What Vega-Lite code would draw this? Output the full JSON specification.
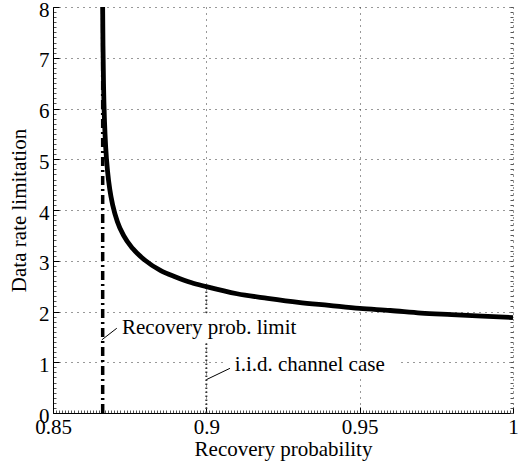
{
  "$schema": "https://vega.github.io/schema/vega-lite/v6.json",
  "width": 460,
  "height": 406,
  "autosize": {"type": "none"},
  "padding": {"left": 53, "top": 7, "right": 16, "bottom": 52},
  "config": {
    "view": {"stroke": null},
    "font": "Liberation Serif",
    "axis": {
      "labelFont": "Liberation Serif",
      "titleFont": "Liberation Serif",
      "labelColor": "#000",
      "titleColor": "#000",
      "labelFontSize": 21,
      "titleFontSize": 21,
      "titleFontWeight": "normal",
      "labelFlush": false,
      "labelOverlap": false
    }
  },
  "resolve": {"axis": {"x": "independent", "y": "independent"}},
  "layer": [
    {
      "data": {"values": [{"x": 0.9, "y": 0, "y2": 2.49}]},
      "mark": {"type": "rule", "strokeDash": [1.5, 2.5], "strokeWidth": 2, "color": "#333"},
      "encoding": {
        "x": {"field": "x", "type": "quantitative",
          "scale": {"domain": [0.85, 1], "nice": false, "zero": false},
          "axis": {"orient": "bottom", "tickCount": 150, "labels": false, "domain": false, "grid": false, "tickSize": -3, "tickColor": "#555", "title": null}},
        "y": {"field": "y", "type": "quantitative",
          "scale": {"domain": [0, 8], "nice": false},
          "axis": {"orient": "left", "tickCount": 80, "labels": false, "domain": false, "grid": false, "tickSize": -3, "tickColor": "#555", "title": null}},
        "y2": {"field": "y2"}
      }
    },
    {
      "data": {"values": [
        {"x": 0.869, "x2": 0.935, "y": 1.42, "y2": 1.96},
        {"x": 0.9055, "x2": 0.963, "y": 0.7, "y2": 1.2}
      ]},
      "mark": {"type": "rect", "fill": "white"},
      "encoding": {
        "x": {"field": "x", "type": "quantitative", "axis": null},
        "x2": {"field": "x2"},
        "y": {"field": "y", "type": "quantitative",
          "axis": {"orient": "right", "tickCount": 80, "labels": false, "domain": false, "grid": false, "tickSize": -3, "tickColor": "#555", "title": null}},
        "y2": {"field": "y2"}
      }
    },
    {
      "data": {"values": [{"x": 0.8662, "y": 0, "y2": 8}]},
      "mark": {"type": "rule", "strokeDash": [9, 4, 2, 4], "strokeWidth": 3.5, "color": "#000"},
      "encoding": {
        "x": {"field": "x", "type": "quantitative", "axis": null},
        "y": {"field": "y", "type": "quantitative", "axis": null},
        "y2": {"field": "y2"}
      }
    },
    {
      "data": {"values": [
        {"x": 0.86619, "y": 8.0},
        {"x": 0.8663, "y": 7.23},
        {"x": 0.8665, "y": 6.41},
        {"x": 0.8668, "y": 5.74},
        {"x": 0.8672, "y": 5.22},
        {"x": 0.8678, "y": 4.76},
        {"x": 0.8685, "y": 4.41},
        {"x": 0.8695, "y": 4.09},
        {"x": 0.871, "y": 3.77},
        {"x": 0.873, "y": 3.5},
        {"x": 0.876, "y": 3.24},
        {"x": 0.88, "y": 3.01},
        {"x": 0.885, "y": 2.81},
        {"x": 0.89, "y": 2.68},
        {"x": 0.895, "y": 2.57},
        {"x": 0.9, "y": 2.49},
        {"x": 0.91, "y": 2.35},
        {"x": 0.92, "y": 2.26},
        {"x": 0.93, "y": 2.18},
        {"x": 0.94, "y": 2.12},
        {"x": 0.95, "y": 2.06},
        {"x": 0.96, "y": 2.02},
        {"x": 0.97, "y": 1.97},
        {"x": 0.98, "y": 1.94},
        {"x": 0.99, "y": 1.91},
        {"x": 1.0, "y": 1.88}
      ]},
      "mark": {"type": "line", "strokeWidth": 4.8, "color": "#000", "interpolate": "monotone"},
      "encoding": {
        "x": {"field": "x", "type": "quantitative", "sort": null,
          "axis": {"orient": "bottom", "values": [0.85, 0.9, 0.95, 1], "format": "~g",
            "grid": true, "gridDash": [1, 5], "gridColor": "#333", "gridOpacity": 1, "gridWidth": 1,
            "domain": true, "domainColor": "#000", "domainWidth": 1,
            "ticks": true, "tickColor": "#000", "tickSize": -6,
            "labelPadding": 9, "title": "Recovery probability", "titlePadding": 1}},
        "y": {"field": "y", "type": "quantitative",
          "axis": {"orient": "left", "values": [0, 1, 2, 3, 4, 5, 6, 7, 8], "format": "d",
            "grid": true, "gridDash": [1, 5], "gridColor": "#333", "gridOpacity": 1, "gridWidth": 1,
            "domain": true, "domainColor": "#000", "domainWidth": 1,
            "ticks": true, "tickColor": "#000", "tickSize": -6,
            "labelPadding": 10, "labelOffset": 3, "title": "Data rate limitation", "titlePadding": 9}},
        "order": {"field": "x", "type": "quantitative"}
      }
    },
    {
      "data": {"values": [
        {"x": 0.8659, "y": 1.44, "x2": 0.8708, "y2": 1.67},
        {"x": 0.9001, "y": 0.66, "x2": 0.9077, "y2": 0.88}
      ]},
      "mark": {"type": "rule", "strokeWidth": 1, "color": "#000"},
      "encoding": {
        "x": {"field": "x", "type": "quantitative", "axis": null},
        "x2": {"field": "x2"},
        "y": {"field": "y", "type": "quantitative", "axis": null},
        "y2": {"field": "y2"}
      }
    },
    {
      "data": {"values": [
        {"x": 0.8725, "y": 1.68, "label": "Recovery prob. limit"},
        {"x": 0.9093, "y": 0.95, "label": "i.i.d. channel case"}
      ]},
      "mark": {"type": "text", "align": "left", "baseline": "middle", "fontSize": 21, "font": "Liberation Serif", "color": "#000"},
      "encoding": {
        "x": {"field": "x", "type": "quantitative", "axis": null},
        "y": {"field": "y", "type": "quantitative", "axis": null},
        "text": {"field": "label"}
      }
    }
  ]
}
